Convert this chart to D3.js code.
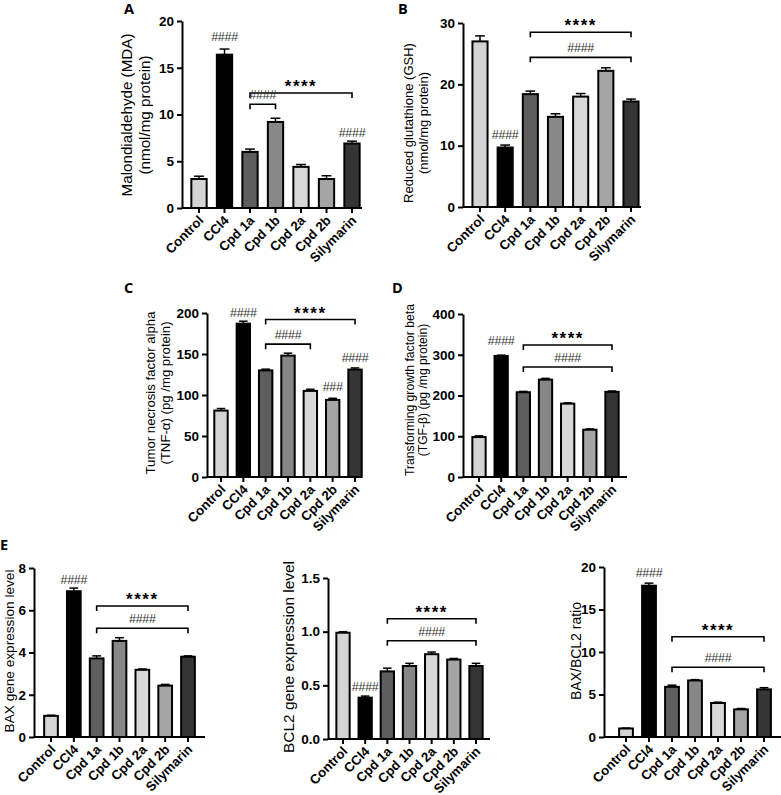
<!DOCTYPE html>
<html><head><meta charset="utf-8">
<script src="https://cdn.jsdelivr.net/npm/d3@7"></script>
<style>body{margin:0;background:#fff}svg{display:block}</style>
</head><body>
<svg id="c" width="781" height="795"></svg>
<script>
const categories = ["Control","CCl4","Cpd 1a","Cpd 1b","Cpd 2a","Cpd 2b","Silymarin"];
const barColors = ["#d4d4d4","#000000","#5e5e5e","#878787","#d8d8d8","#a5a5a5","#353535"];

const mdaValues = [3.1,16.4,6.0,9.2,4.4,3.1,6.9];
const mdaErrors = [0.3,0.6,0.3,0.4,0.25,0.35,0.25];
const gshValues = [27.0,9.7,18.4,14.7,18.0,22.2,17.2];
const gshErrors = [0.9,0.4,0.5,0.5,0.5,0.5,0.4];
const tnfValues = [81,187,130,148,105,94,131];
const tnfErrors = [2.5,3,1.5,3,2,2,2];
const tgfValues = [98,297,208,239,180,116,209];
const tgfErrors = [3,2,2,3,2,2,2];
const baxValues = [1.0,6.9,3.72,4.55,3.18,2.43,3.8];
const baxErrors = [0.03,0.15,0.12,0.15,0.04,0.06,0.04];
const bcl2Values = [0.99,0.385,0.63,0.68,0.79,0.74,0.68];
const bcl2Errors = [0.01,0.015,0.03,0.025,0.02,0.01,0.025];
const ratioValues = [1.0,17.8,5.9,6.65,4.0,3.25,5.6];
const ratioErrors = [0.05,0.3,0.2,0.1,0.1,0.1,0.2];

const mdaTicks = [0,5,10,15,20];
const gshTicks = [0,10,20,30];
const tnfTicks = [0,50,100,150,200];
const tgfTicks = [0,100,200,300,400];
const baxTicks = [0,2,4,6,8];
const bcl2Ticks = [0,0.5,1.0,1.5];
const ratioTicks = [0,5,10,15,20];

const FONT = "'Liberation Sans', Arial, sans-serif";
const svg = d3.select("#c");

function panel(o){
  const g = svg.append("g");
  const step = (o.last - o.first)/(categories.length-1);
  const x = d3.scaleBand().domain(categories)
      .range([o.first - step/2, o.last + step/2]).paddingInner(0.4).paddingOuter(0.2);
  const y = d3.scaleLinear().domain([0, o.ticks[o.ticks.length-1]]).range([o.bottom, o.top]);
  const bw = x.bandwidth();
  g.selectAll("rect.bar").data(o.values).enter().append("rect")
    .attr("x",(d,i)=>x(categories[i])).attr("y",d=>y(d))
    .attr("width",bw).attr("height",d=>y(0)-y(d))
    .attr("fill",(d,i)=>barColors[i]).attr("stroke","#000").attr("stroke-width",2);
  const eb = g.append("g").attr("stroke","#000").attr("stroke-width",1.5);
  o.values.forEach((v,i)=>{
    const cx = x(categories[i]) + bw/2;
    eb.append("line").attr("x1",cx).attr("x2",cx).attr("y1",y(v)).attr("y2",y(v+o.errors[i]));
    eb.append("line").attr("x1",cx-bw*0.32).attr("x2",cx+bw*0.32).attr("y1",y(v+o.errors[i])).attr("y2",y(v+o.errors[i]));
  });
  const fmt = o.fmt || d3.format("d");
  const ya = g.append("g").attr("transform",`translate(${o.axisX},0)`)
    .call(d3.axisLeft(y).tickValues(o.ticks).tickFormat(fmt).tickSize(5).tickSizeOuter(0));
  ya.select(".domain").attr("stroke-width",2);
  ya.selectAll(".tick line").attr("stroke-width",2);
  ya.selectAll("text").attr("font-family",FONT).attr("font-weight","bold")
    .attr("font-size",13.5).attr("fill","#000");
  const xa = g.append("g").attr("transform",`translate(0,${o.bottom})`)
    .call(d3.axisBottom(x).tickSize(5).tickSizeOuter(0));
  xa.select(".domain").attr("d",`M${o.axisX},0H${o.axisEnd}`).attr("stroke-width",2);
  xa.selectAll(".tick line").attr("stroke-width",2);
  xa.selectAll("text").attr("font-family",FONT).attr("font-weight","bold")
    .attr("font-size",13.2).attr("fill","#000")
    .attr("text-anchor","end").attr("y",0).attr("dy","0.35em")
    .attr("transform","translate(2,10) rotate(-45)");
  const yl = g.append("text").attr("transform",`translate(${o.labelX},${o.labelY}) rotate(-90)`)
    .attr("text-anchor","middle").attr("font-family",FONT)
    .attr("font-size",14).attr("fill","#000");
  const spans = o.label.map((t,i)=>yl.append("tspan").attr("x",0).text(t));
  const len = spans[0].node().getComputedTextLength();
  const fs = 14 * o.labelLen / len;
  yl.attr("font-size",fs);
  spans.forEach((s,i)=>s.attr("dy",i===0?0:fs*(o.lineGap||1.18)));
  (o.brackets||[]).forEach(b=>{
    const x1 = x(categories[b.from]) + bw/2, x2 = x(categories[b.to]) + bw/2, yy = y(b.at);
    g.append("path").attr("d",`M${x1},${yy+5}V${yy}H${x2}V${yy+5}`)
      .attr("fill","none").attr("stroke","#000").attr("stroke-width",1.6);
    const star = b.text==="****";
    g.append("text").attr("x",(x1+x2)/2).attr("y",yy-(star?1:5))
      .attr("text-anchor","middle").attr("font-family",FONT)
      .attr("font-size",star?17:12.5).attr("font-weight",star?"bold":"normal")
      .attr("fill",star?"#000":"#333").attr("letter-spacing",star?1.5:-0.3)
      .text(b.text);
  });
  (o.marks||[]).forEach(m=>{
    const cx = x(categories[m.i]) + bw/2;
    g.append("text").attr("x",cx).attr("y",y(m.at)).attr("text-anchor","middle")
      .attr("font-family",FONT).attr("font-size",12.5).attr("fill","#333")
      .attr("letter-spacing",-0.3).text(m.text);
  });
  if(o.letter){
    g.append("text").attr("x",o.letter[0]).attr("y",o.letter[1]).attr("font-family","'Open Sans', Arial, sans-serif")
      .attr("font-weight","bold").attr("font-size",14.5).text(o.letter[2]);
  }
}

panel({values:mdaValues,errors:mdaErrors,ticks:mdaTicks,axisX:182,axisEnd:362,top:21,bottom:208,first:199,last:352,
  label:["Malondialdehyde (MDA)","(nmol/mg protein)"],labelX:132,labelY:115,labelLen:163,letter:[124,14,"A"],
  brackets:[{from:2,to:6,at:12.3,text:"****"},{from:2,to:3,at:11.1,text:"####"}],
  marks:[{i:1,at:17.9,text:"####"},{i:6,at:7.6,text:"####"}]});

panel({values:gshValues,errors:gshErrors,ticks:gshTicks,axisX:463,axisEnd:641,top:23,bottom:207,first:480,last:631,
  label:["Reduced glutathione (GSH)","(nmol/mg protein)"],labelX:413,labelY:123,labelLen:160,letter:[398,14,"B"],
  brackets:[{from:2,to:6,at:28.5,text:"****"},{from:2,to:6,at:24.4,text:"####"}],
  marks:[{i:1,at:11.1,text:"####"}]});

panel({values:tnfValues,errors:tnfErrors,ticks:tnfTicks,axisX:207,axisEnd:362,top:313,bottom:477,first:221,last:355,
  label:["Tumor necrosis factor alpha","(TNF-\u03b1) (pg /mg protein)"],labelX:155,labelY:393,labelLen:163,lineGap:1.12,letter:[124,293,"C"],
  brackets:[{from:2,to:6,at:192,text:"****"},{from:2,to:4,at:162,text:"####"}],
  marks:[{i:1,at:195,text:"####"},{i:5,at:105,text:"###"},{i:6,at:140,text:"####"}]});

panel({values:tgfValues,errors:tgfErrors,ticks:tgfTicks,axisX:463,axisEnd:627,top:314,bottom:477,first:479,last:612,
  label:["Transforming growth factor beta","(TGF-\u03b2) (pg /mg protein)"],labelX:414,labelY:390,labelLen:172,lineGap:1.1,letter:[392,293,"D"],
  brackets:[{from:2,to:6,at:324,text:"****"},{from:2,to:6,at:270,text:"####"}],
  marks:[{i:1,at:324,text:"####"}]});

panel({values:baxValues,errors:baxErrors,ticks:baxTicks,axisX:34,axisEnd:205,top:568,bottom:737,first:51,last:188,
  label:["BAX gene expression level"],labelX:14,labelY:651,labelLen:163,letter:[0,550,"E"],
  brackets:[{from:2,to:6,at:6.2,text:"****"},{from:2,to:6,at:5.15,text:"####"}],
  marks:[{i:1,at:7.24,text:"####"}]});

panel({values:bcl2Values,errors:bcl2Errors,ticks:bcl2Ticks,axisX:328,axisEnd:490,top:578,bottom:739,first:343,last:476,
  fmt:d3.format(".1f"),
  label:["BCL2 gene expression level"],labelX:294,labelY:657,labelLen:192,
  brackets:[{from:2,to:6,at:1.12,text:"****"},{from:2,to:6,at:0.915,text:"####"}],
  marks:[{i:1,at:0.447,text:"####"}]});

panel({values:ratioValues,errors:ratioErrors,ticks:ratioTicks,axisX:604,axisEnd:781,top:567,bottom:737,first:626,last:764,
  label:["BAX/BCL2 ratio"],labelX:581,labelY:651,labelLen:98,
  brackets:[{from:2,to:6,at:11.8,text:"****"},{from:2,to:6,at:8.2,text:"####"}],
  marks:[{i:1,at:18.8,text:"####"}]});
</script>
</body></html>
